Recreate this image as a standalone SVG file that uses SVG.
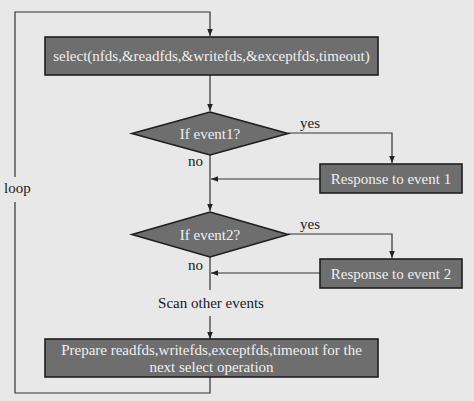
<svg xmlns="http://www.w3.org/2000/svg" width="474" height="401" viewBox="0 0 474 401">
<style>
.box{fill:#6e6e6e;stroke:#1e1e1e;stroke-width:1.6}
.t{font-family:"Liberation Serif","Times New Roman",serif;font-size:15px}
.w{fill:#f0f0f0}
.k{fill:#1a1a1a}
.ln{fill:none;stroke:#333;stroke-width:1.2}
</style>
<defs>
<marker id="ah" viewBox="0 0 10 10" refX="10" refY="5" markerWidth="7" markerHeight="7" markerUnits="userSpaceOnUse" orient="auto">
<path d="M0,1 L10,5 L0,9 Z" fill="#222"/>
</marker>
</defs>
<rect width="474" height="401" fill="#e8e8e8"/>
<g id="connectors">
<path class="ln" d="M210,377 V393 H15 V202 M15,177 V12 H210 V36" marker-end="url(#ah)"/>
<path class="ln" d="M210,75 V111" marker-end="url(#ah)"/>
<path class="ln" d="M288,133 H392 V163" marker-end="url(#ah)"/>
<path class="ln" d="M210,155 V211" marker-end="url(#ah)"/>
<path class="ln" d="M320,179 H211" marker-end="url(#ah)"/>
<path class="ln" d="M288,234 H392 V258" marker-end="url(#ah)"/>
<path class="ln" d="M210,257 V290"/>
<path class="ln" d="M320,273 H211" marker-end="url(#ah)"/>
<path class="ln" d="M210,316 V339" marker-end="url(#ah)"/>
<text class="t k" x="300" y="128" font-size="14.5">yes</text>
<text class="t k" x="188" y="166" font-size="14.5">no</text>
<text class="t k" x="300" y="229" font-size="14.5">yes</text>
<text class="t k" x="188" y="270" font-size="14.5">no</text>
<text class="t k" x="4" y="193" font-size="14.5">loop</text>
<text class="t k" x="211" y="308" text-anchor="middle">Scan other events</text>
</g>
<g id="select">
<rect class="box" x="45" y="37" width="333" height="38"/>
<text class="t w" x="211.5" y="61" text-anchor="middle">select(nfds,&amp;readfds,&amp;writefds,&amp;exceptfds,timeout)</text>
</g>
<g id="event1">
<polygon class="box" points="210,112 288,133.5 210,155 132,133.5"/>
<text class="t w" x="210" y="138.5" text-anchor="middle">If event1?</text>
</g>
<g id="resp1">
<rect class="box" x="320" y="164" width="142" height="29"/>
<text class="t w" x="391" y="183.5" text-anchor="middle">Response to event 1</text>
</g>
<g id="event2">
<polygon class="box" points="210,212 288,234.5 210,257 132,234.5"/>
<text class="t w" x="210" y="239.5" text-anchor="middle">If event2?</text>
</g>
<g id="resp2">
<rect class="box" x="320" y="259" width="142" height="29"/>
<text class="t w" x="391" y="278.5" text-anchor="middle">Response to event 2</text>
</g>
<g id="prepare">
<rect class="box" x="45" y="339" width="333" height="38"/>
<text class="t w" x="211.5" y="355" text-anchor="middle">Prepare readfds,writefds,exceptfds,timeout for the</text>
<text class="t w" x="211.5" y="372" text-anchor="middle">next select operation</text>
</g>
</svg>
